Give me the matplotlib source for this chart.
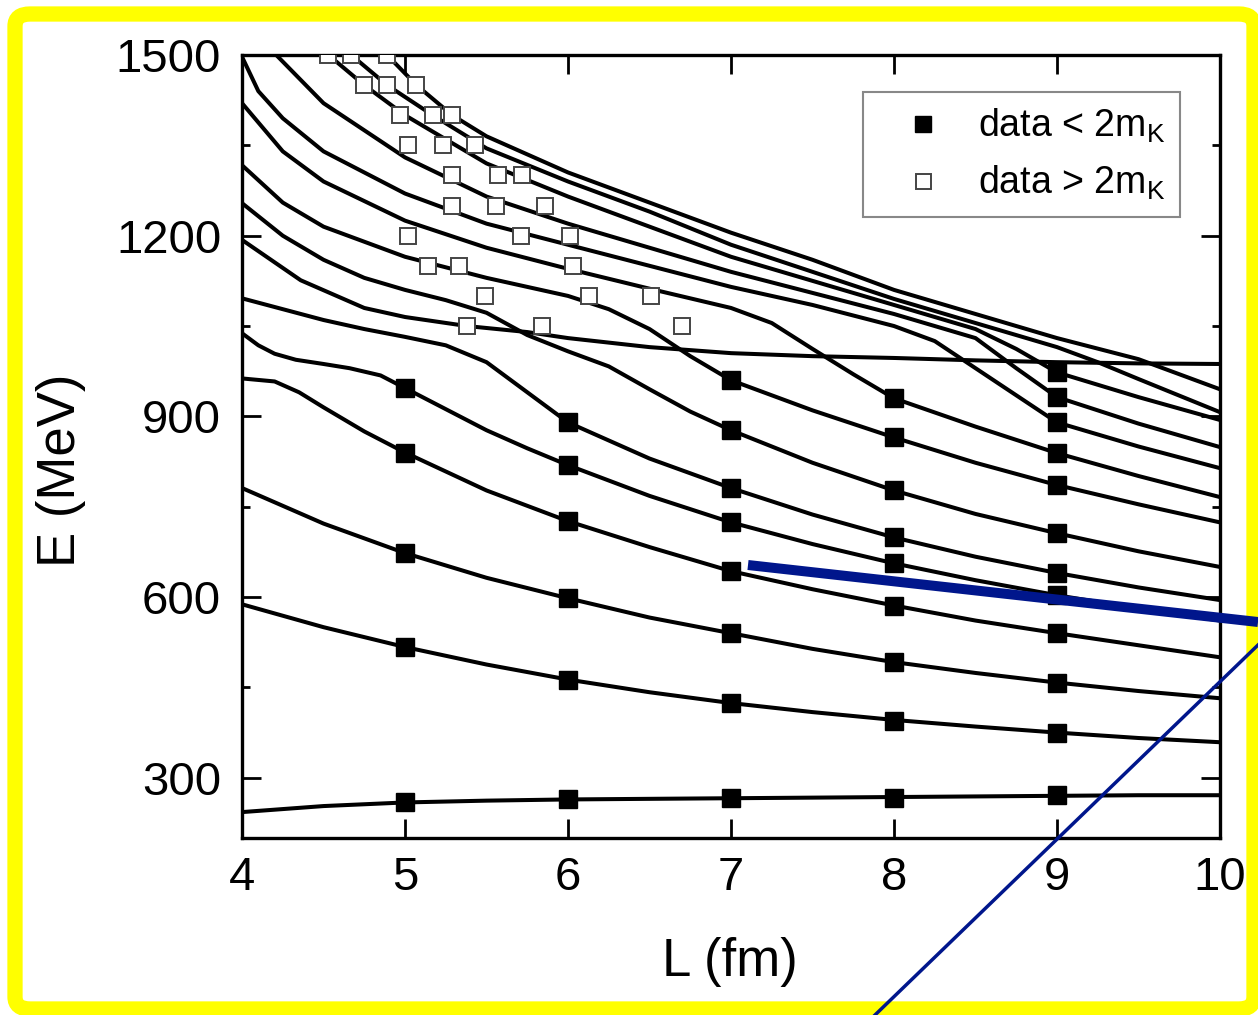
import matplotlib
matplotlib.use("Agg")
import matplotlib.pyplot as plt
from matplotlib.patches import FancyBboxPatch
from matplotlib.lines import Line2D
from matplotlib.ticker import MultipleLocator

plt.rcParams['font.family'] = ['Liberation Sans', 'DejaVu Sans']

# energy levels E(L) (MeV vs fm)
L_half = [4, 4.5, 5, 5.5, 6, 6.5, 7, 7.5, 8, 8.5, 9, 9.5, 10]

lvl15_E = [243, 253, 259, 262, 264, 265, 266, 267, 268, 269, 270, 271, 271]
lvl14_E = [588, 550, 517, 488, 463, 442, 424, 409, 396, 385, 375, 366, 359]
lvl13_E = [781, 722, 673, 632, 598, 566, 540, 514, 492, 474, 458, 444, 432]

lvl12_L = [4, 4.2, 4.35, 4.5, 4.75, 5, 5.5, 6, 6.5, 7, 7.5, 8, 8.5, 9, 9.5, 10]
lvl12_E = [963, 958, 940, 915, 875, 840, 777, 726, 683, 643, 613, 586, 561, 540, 520, 500]

lvl11_L = [4, 4.1, 4.2, 4.33, 4.5, 4.66, 4.85, 5, 5.25, 5.5, 5.75, 6, 6.5, 7, 7.5, 8, 8.5, 9, 9.5, 10]
lvl11_E = [1038, 1018, 1004, 994, 987, 980, 968, 947, 912, 877, 847, 819, 768, 724, 688, 656, 628, 603, 581, 561]

lvl10_L = [4, 4.25, 4.5, 4.75, 5, 5.25, 5.5, 5.75, 6, 6.5, 7, 7.5, 8, 8.5, 9, 9.5, 10]
lvl10_E = [1096, 1078, 1060, 1045, 1032, 1018, 990, 940, 890, 830, 781, 737, 699, 667, 640, 616, 595]

lvl09_L = [4, 4.25, 4.5, 4.75, 5, 5.25, 5.5, 5.75, 6, 6.25, 6.5, 6.75, 7, 7.5, 8, 8.5, 9, 9.5, 10]
lvl09_E = [1254, 1200, 1160, 1130, 1110, 1093, 1072, 1035, 1008, 983, 945, 908, 877, 823, 777, 738, 706, 676, 650]

lvl08_L = [4, 4.25, 4.5, 5, 5.5, 6, 6.25, 6.5, 6.75, 7, 7.5, 8, 8.5, 9, 9.5, 10]
lvl08_E = [1317, 1255, 1215, 1165, 1130, 1100, 1078, 1045, 1000, 960, 910, 865, 823, 786, 754, 724]

lvl07_L = [4, 4.25, 4.5, 5, 5.5, 6, 6.5, 7, 7.25, 7.5, 7.75, 8, 8.5, 9, 9.5, 10]
lvl07_E = [1420, 1340, 1290, 1225, 1180, 1145, 1112, 1080, 1055, 1012, 970, 930, 883, 839, 801, 766]

lvl06_L = [4, 4.1, 4.25, 4.5, 5, 5.5, 6, 6.5, 7, 7.5, 8, 8.25, 8.5, 8.75, 9, 9.5, 10]
lvl06_E = [1497, 1440, 1395, 1340, 1270, 1220, 1185, 1150, 1115, 1085, 1050, 1025, 980, 935, 890, 850, 814]

lvl05_L = [4.21, 4.5, 5, 5.5, 6, 6.5, 7, 7.5, 8, 8.5, 8.75, 9, 9.5, 10]
lvl05_E = [1500, 1420, 1330, 1265, 1220, 1180, 1140, 1105, 1070, 1030, 980, 932, 888, 849]

lvl04_L = [4.53, 4.75, 5, 5.5, 6, 6.5, 7, 7.5, 8, 8.5, 8.75, 9, 9.5, 10]
lvl04_E = [1500, 1450, 1400, 1320, 1265, 1215, 1165, 1125, 1085, 1045, 1012, 973, 932, 894]

lvl03_L = [4.67, 4.89, 5.17, 5.5, 6, 6.5, 7, 7.5, 8, 8.5, 9, 9.25, 9.5, 10]
lvl03_E = [1500, 1450, 1400, 1345, 1290, 1240, 1185, 1140, 1095, 1055, 1015, 990, 962, 907]

lvl02_L = [4.89, 5.07, 5.29, 5.5, 6, 6.5, 7, 7.5, 8, 8.5, 9, 9.5, 10]
lvl02_E = [1500, 1450, 1400, 1365, 1305, 1255, 1205, 1160, 1110, 1070, 1030, 995, 945]

lvl01_L = [4, 4.36, 4.75, 5, 5.38, 5.75, 6, 6.5, 7, 7.5, 8, 8.5, 9, 9.5, 10]
lvl01_E = [1193, 1126, 1080, 1065, 1050, 1040, 1030, 1015, 1005, 1000, 997, 993, 990, 988, 987]

# lattice data below the K Kbar threshold (filled squares)
below_L = ([5] * 5 + [6] * 6 + [7] * 8 + [8] * 9 + [9] * 12)
below_E = [259, 517, 673, 840, 947,
           264, 462, 598, 726, 819, 890,
           266, 424, 540, 643, 724, 781, 877, 960,
           267, 395, 492, 586, 656, 699, 777, 865, 930,
           271, 374, 458, 540, 603, 640, 706, 786, 839, 890, 932, 973]

# lattice data above the threshold (open squares)
above_E = ([1500] * 3 + [1450] * 3 + [1400] * 3 + [1350] * 3 + [1300] * 3
           + [1250] * 3 + [1200] * 3 + [1150] * 3 + [1100] * 3 + [1050] * 3)
above_L = [4.53, 4.67, 4.89,
           4.75, 4.89, 5.07,
           4.97, 5.17, 5.29,
           5.02, 5.23, 5.43,
           5.29, 5.57, 5.72,
           5.29, 5.56, 5.86,
           5.02, 5.71, 6.01,
           5.14, 5.33, 6.03,
           5.49, 6.13, 6.51,
           5.38, 5.84, 6.70]

fig = plt.figure(figsize=(12.58, 10.15), dpi=100)
ax = fig.add_axes([0.1924, 0.1744, 0.7774, 0.7714])

curves = [
    (L_half, lvl15_E), (L_half, lvl14_E), (L_half, lvl13_E),
    (lvl12_L, lvl12_E), (lvl11_L, lvl11_E), (lvl10_L, lvl10_E),
    (lvl09_L, lvl09_E), (lvl08_L, lvl08_E), (lvl07_L, lvl07_E),
    (lvl06_L, lvl06_E), (lvl05_L, lvl05_E), (lvl04_L, lvl04_E),
    (lvl03_L, lvl03_E), (lvl02_L, lvl02_E), (lvl01_L, lvl01_E),
]
for xs, ys in curves:
    ax.plot(xs, ys, color='black', lw=2.9, solid_joinstyle='round', zorder=2)

ax.plot(above_L, above_E, 's', ms=12, mfc='white', mec='#444444', mew=1.4,
        ls='none', zorder=3, label=r'data > 2m$_{\mathregular{K}}$')
ax.plot(below_L, below_E, 's', ms=12.5, mfc='black', mec='black',
        ls='none', zorder=4, label=r'data < 2m$_{\mathregular{K}}$')

ax.set_xlim(4, 10)
ax.set_ylim(200, 1500)
ax.set_xticks([4, 5, 6, 7, 8, 9, 10])
ax.set_yticks([300, 600, 900, 1200, 1500])
ax.yaxis.set_minor_locator(MultipleLocator(150))
ax.tick_params(which='both', direction='in', top=True, right=True, width=2)
ax.tick_params(which='major', length=14, labelsize=34)
ax.tick_params(which='minor', length=6)
ax.tick_params(axis='x', which='both', pad=13)
ax.tick_params(axis='y', which='both', pad=15)
for s in ax.spines.values():
    s.set_linewidth(2.4)

ax.set_xlabel('L (fm)', fontsize=38)
ax.set_ylabel('E (MeV)', fontsize=38)
ax.xaxis.set_label_coords(0.499, -0.126)
ax.yaxis.set_label_coords(-0.16, 0.47)

handles, labels = ax.get_legend_handles_labels()
leg = ax.legend(handles[::-1], labels[::-1], loc='upper right',
                bbox_to_anchor=(0.959, 0.953), borderaxespad=0,
                fontsize=27, frameon=True, fancybox=False, framealpha=1,
                edgecolor='#888888', handletextpad=0.25, labelspacing=0.5,
                borderpad=0.4, handlelength=2.4, markerscale=0.9)
leg.get_frame().set_linewidth(1.5)

# yellow frame around the whole picture
W, H = 1258.0, 1015.0
frame = FancyBboxPatch((15 / W, 1 - 1009 / H), (1254 - 15) / W, (1009 - 14) / H,
                       boxstyle='round,pad=0,rounding_size=0.012',
                       transform=fig.transFigure, facecolor='none',
                       edgecolor='#FFFF00', linewidth=11, zorder=5)
fig.patches.append(frame)

# blue pointer lines drawn over the figure
fig.add_artist(Line2D([748 / W, 1258 / W], [1 - 565 / H, 1 - 622 / H],
                      transform=fig.transFigure, color='#00168C', lw=7.2,
                      solid_capstyle='butt', zorder=10))
fig.add_artist(Line2D([875 / W, 1258 / W], [1 - 1015 / H, 1 - 645 / H],
                      transform=fig.transFigure, color='#00168C', lw=2.5,
                      zorder=10))

fig.savefig('out.png', dpi=100)
